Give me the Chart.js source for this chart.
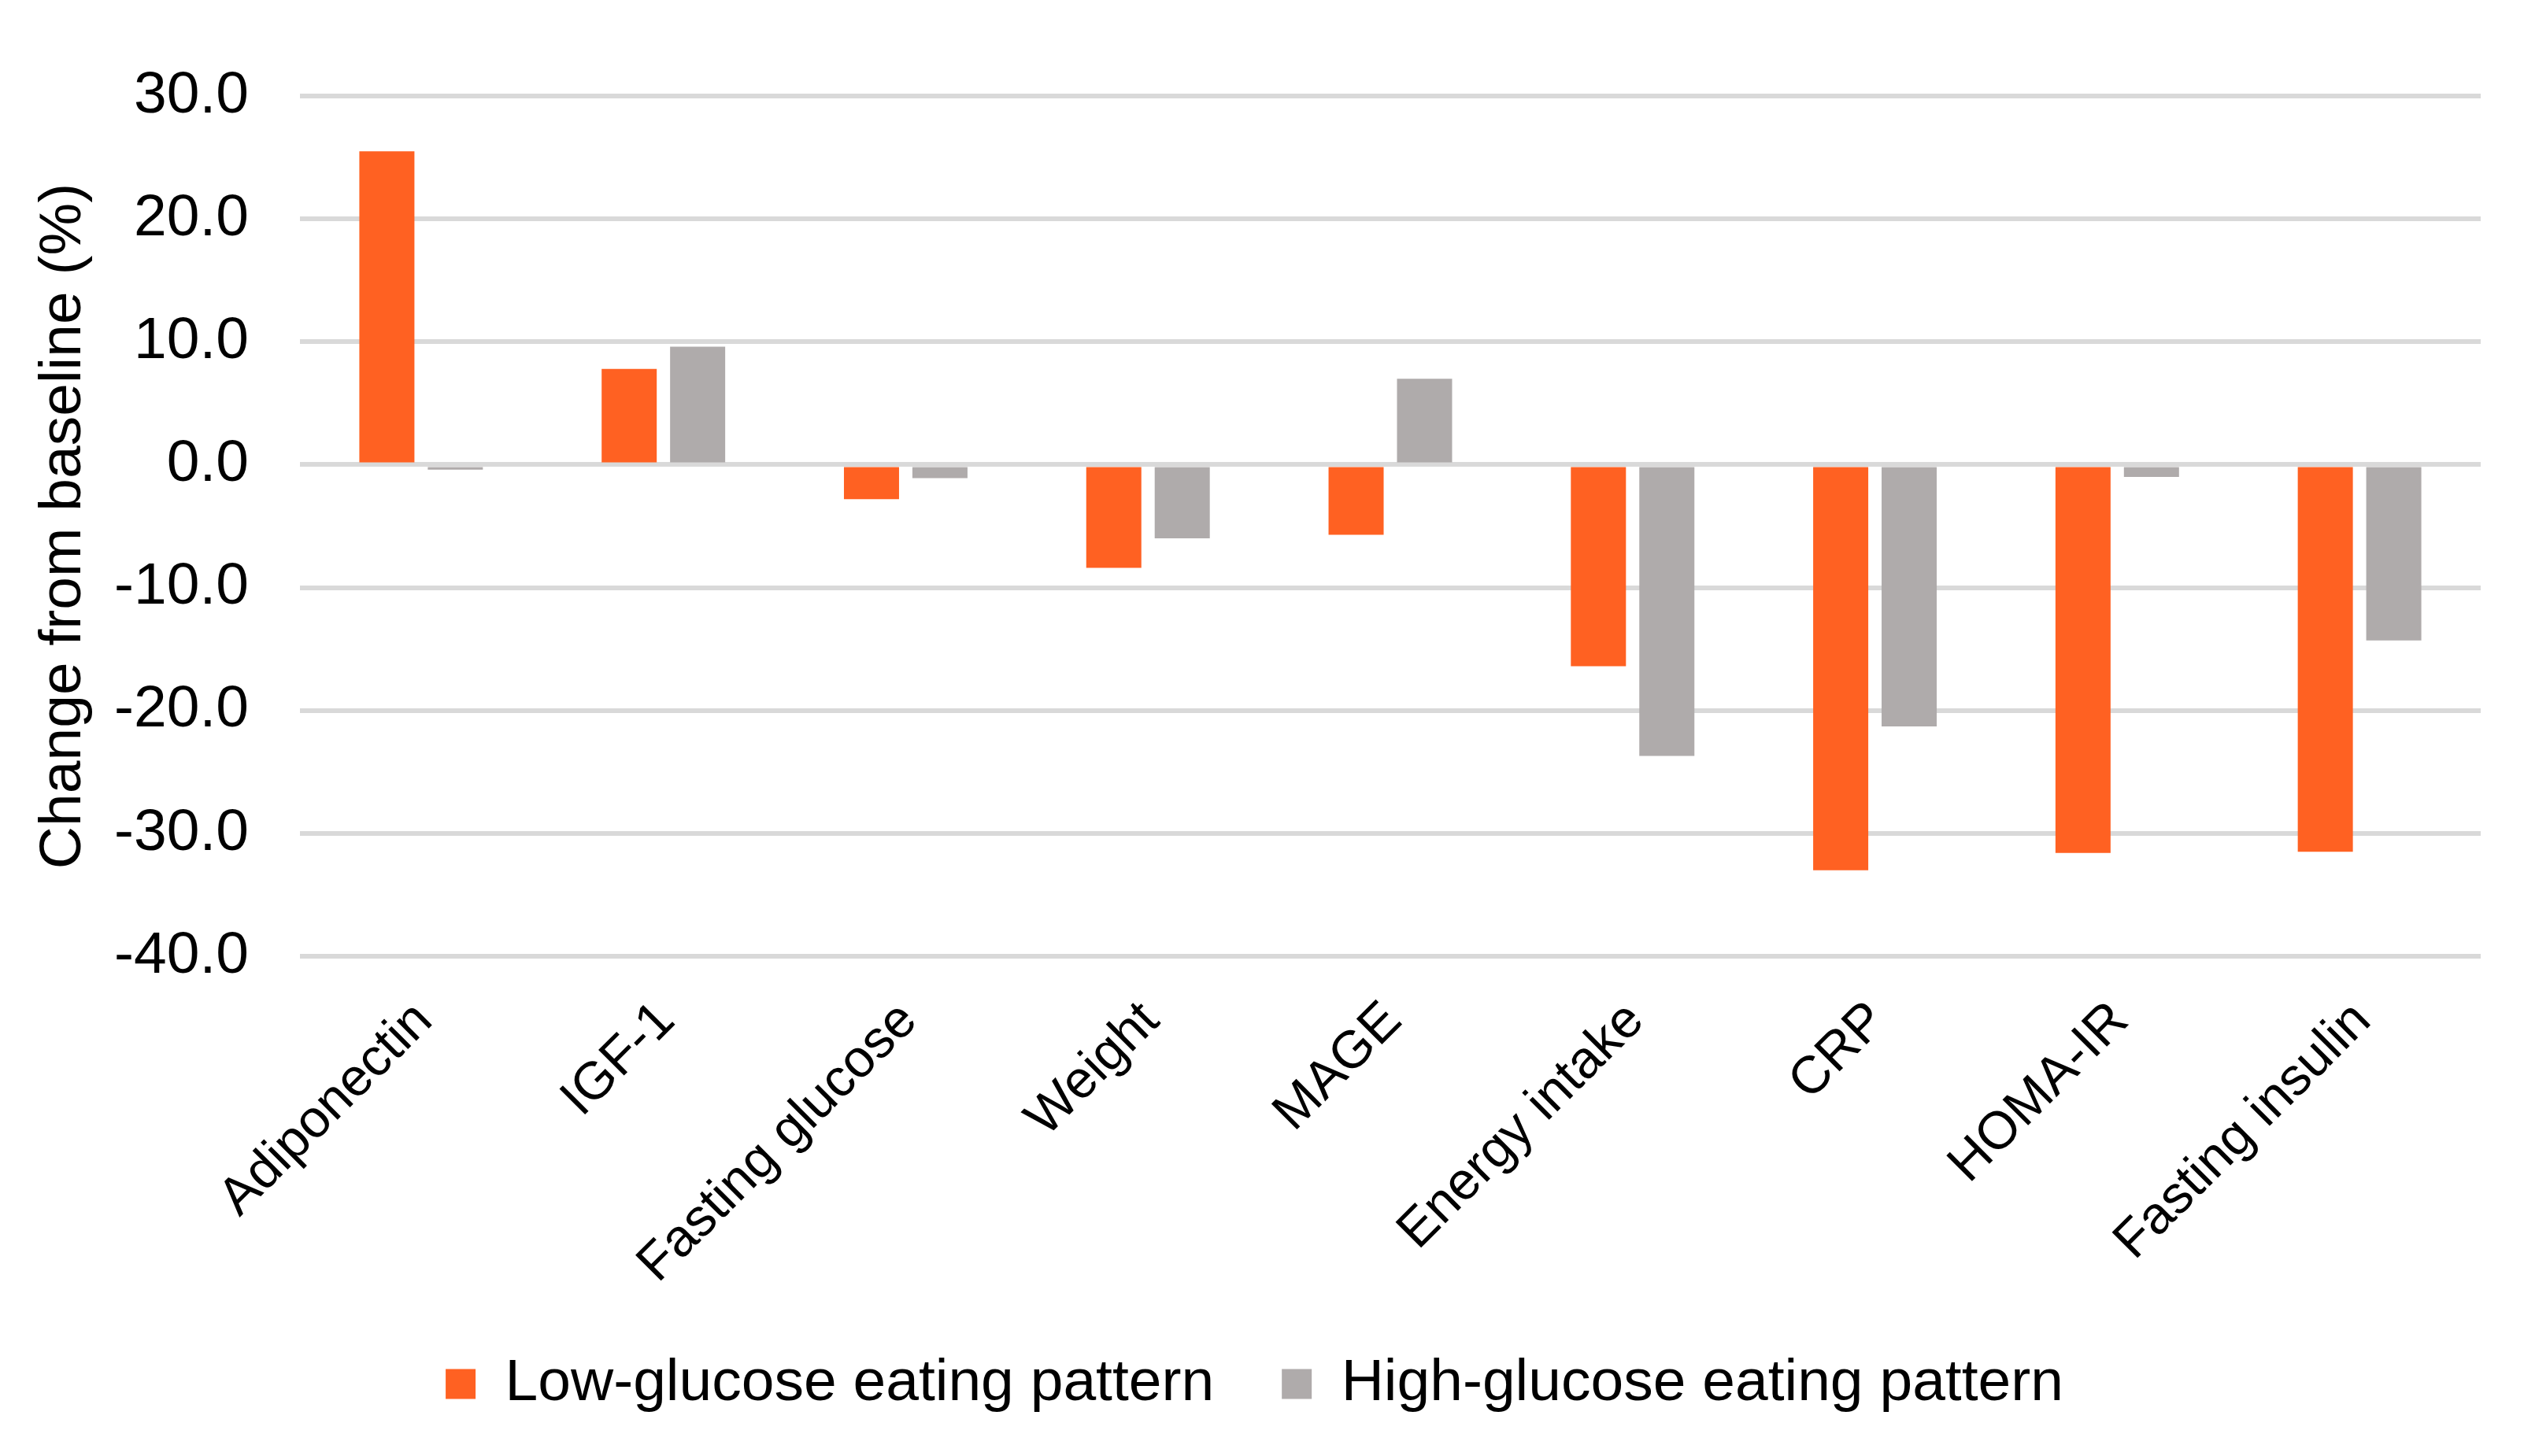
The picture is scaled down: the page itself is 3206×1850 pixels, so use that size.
<!DOCTYPE html>
<html lang="en">
<head>
    <meta charset="UTF-8">
    <title>Change from baseline</title>
    <script src="https://cdn.jsdelivr.net/npm/chart.js"></script>
    <style>
        html, body { margin: 0; padding: 0; background: #fff; }
        #wrap { width: 3206px; height: 1850px; position: relative; }
    </style>
</head>
<body>
    <div id="wrap">
        <canvas id="changeChart"></canvas>
    </div>
    <script>
    const categories = ['Adiponectin', 'IGF-1', 'Fasting glucose', 'Weight', 'MAGE',
                        'Energy intake', 'CRP', 'HOMA-IR', 'Fasting insulin'];
    const lowGlucose = [25.5, 7.8, -2.8, -8.4, -5.7, -16.4, -33.0, -31.6, -31.5];
    const highGlucose = [-0.4, 9.6, -1.1, -6.0, 7.0, -23.7, -21.3, -1.0, -14.3];
    const yTicks = [30, 20, 10, 0, -10, -20, -30, -40];

    const fontFamily = '"Liberation Sans", Arial, sans-serif';

    document.addEventListener('DOMContentLoaded', function () {
        const ctx = document.getElementById('changeChart').getContext('2d');
        new Chart(ctx, {
            type: 'bar',
            data: {
                labels: categories,
                datasets: [{
                    label: 'Low-glucose eating pattern',
                    data: lowGlucose,
                    backgroundColor: '#FF6122',
                    categoryPercentage: 0.565,
                    barPercentage: 0.805
                }, {
                    label: 'High-glucose eating pattern',
                    data: highGlucose,
                    backgroundColor: '#AFABAB',
                    categoryPercentage: 0.565,
                    barPercentage: 0.805
                }]
            },
            options: {
                responsive: true,
                maintainAspectRatio: false,
                animation: false,
                layout: {
                    padding: { left: 36, right: 55, top: 122, bottom: 44 }
                },
                scales: {
                    x: {
                        grid: { display: false, drawTicks: false },
                        border: { display: false },
                        ticks: {
                            color: '#000',
                            font: { family: fontFamily, size: 67 },
                            minRotation: 45,
                            maxRotation: 45,
                            autoSkip: false,
                            padding: 43,
                            labelOffset: 4
                        },
                        // labels are clipped to the axis box, keep it tall enough
                        afterFit: function (scale) { scale.height = 420; }
                    },
                    y: {
                        min: Math.min(...yTicks),
                        max: Math.max(...yTicks),
                        afterBuildTicks: function (scale) {
                            scale.ticks = yTicks.map(v => ({ value: v }));
                        },
                        // title (90) + gap + tick labels + padding
                        afterFit: function (scale) { scale.width = 345; },
                        grid: { color: '#D9D9D9', lineWidth: 6, drawTicks: false },
                        border: { display: false },
                        ticks: {
                            color: '#000',
                            font: { family: fontFamily, size: 75 },
                            padding: 65,
                            callback: v => Number(v).toFixed(1)
                        },
                        title: {
                            display: true,
                            text: 'Change from baseline (%)',
                            color: '#000',
                            font: { family: fontFamily, size: 75 },
                            padding: { top: 0, bottom: 0 }
                        }
                    }
                },
                plugins: {
                    legend: {
                        display: true,
                        position: 'bottom',
                        labels: {
                            color: '#000',
                            font: { family: fontFamily, size: 75 },
                            boxWidth: 38,
                            boxHeight: 38,
                            padding: 86
                        }
                    },
                    tooltip: { enabled: false }
                }
            }
        });
    });
    </script>
</body>
</html>
